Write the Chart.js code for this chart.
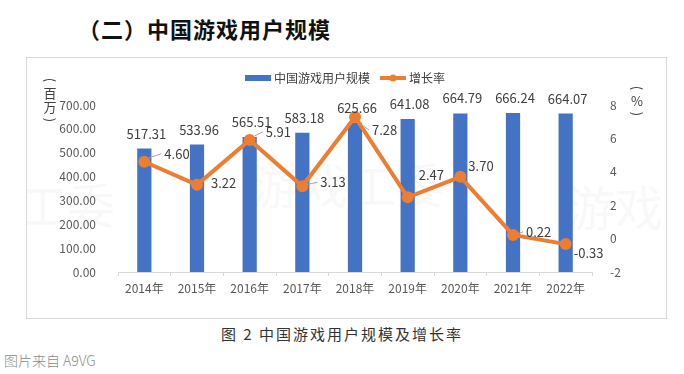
<!DOCTYPE html>
<html>
<head>
<meta charset="utf-8">
<script src="https://cdn.jsdelivr.net/npm/chart.js@4/dist/chart.umd.min.js"></script>
<style>
  body { margin: 0; width: 684px; height: 374px; background: #fff; position: relative; overflow: hidden;
         font-family: "Noto Sans CJK SC", sans-serif; }
  .title { position: absolute; left: 78px; top: 12px; font-size: 22px; font-weight: bold; color: #111; letter-spacing: 1px; }
  .frame { position: absolute; left: 26px; top: 57px; width: 639px; height: 260px; border: 1px solid #d9d9d9; }
  .caption { position: absolute; left: 0; width: 684px; top: 323px; text-align: center; font-size: 15px; color: #333; letter-spacing: 2px; }
  .source { position: absolute; left: 4px; top: 350px; font-size: 14px; color: #8a8a8a; font-weight: 300; }
</style>
</head>
<body>
<div class="title">（二）中国游戏用户规模</div>
<div class="frame"><canvas id="chart" width="639" height="260"></canvas></div>
<div class="caption">图 2 中国游戏用户规模及增长率</div>
<div class="source">图片来自 A9VG</div>
<script>
const years = ['2014年', '2015年', '2016年', '2017年', '2018年', '2019年', '2020年', '2021年', '2022年'];
const users = [517.31, 533.96, 565.51, 583.18, 625.66, 641.08, 664.79, 666.24, 664.07];
const growth = [4.60, 3.22, 5.91, 3.13, 7.28, 2.47, 3.70, 0.22, -0.33];
const userAxis = [0, 700, 100];
const growthAxis = [-2, 8, 2];

const BLUE = '#4472C4';
const ORANGE = '#ED7D31';
const TEXT = '#404040';
const FONT = '"Noto Sans CJK SC", sans-serif';

// label offsets for the growth values (dx, dy, leader line)
const lineLabelPos = [[20, -8, true], [14, -2, false], [16, -8, true], [18, -4, true], [17, 13, true],
                      [11, -22, false], [8, -11, false], [13, -3, true], [8, 9, false]];

// vertical axis title: rotated brackets around stacked characters
function verticalTitle(ctx, chars, x, y) {
  let yy = y;
  const paren = (ch, py) => {
    ctx.save();
    ctx.translate(x, py);
    ctx.rotate(Math.PI / 2);
    ctx.fillText(ch, 0, 0);
    ctx.restore();
  };
  paren('(', yy);
  yy += 13;
  chars.forEach(c => { ctx.fillText(c, x, yy); yy += 14; });
  paren(')', yy - 1);
}

const extras = {
  id: 'extras',
  beforeDatasetsDraw(chart) {
    const ctx = chart.ctx;
    ctx.save();
    ctx.fillStyle = 'rgba(160,160,160,0.08)';
    ctx.font = '48px ' + FONT;
    ctx.textBaseline = 'middle';
    ctx.fillText('工委', -8, 148);
    ctx.fillText('游戏工委', 225, 128);
    ctx.fillText('游戏', 540, 150);
    ctx.restore();
  },
  afterDatasetsDraw(chart) {
    const ctx = chart.ctx;
    ctx.save();
    ctx.font = '13px ' + FONT;
    ctx.fillStyle = TEXT;
    // bar values
    ctx.textAlign = 'center';
    ctx.textBaseline = 'middle';
    chart.getDatasetMeta(1).data.forEach((bar, i) => {
      ctx.fillText(users[i].toFixed(2), bar.x + 2, bar.y - 15);
    });
    // growth values
    ctx.textAlign = 'left';
    chart.getDatasetMeta(0).data.forEach((pt, i) => {
      const [dx, dy, leader] = lineLabelPos[i];
      if (leader) {
        ctx.strokeStyle = '#a6a6a6';
        ctx.lineWidth = 1;
        ctx.beginPath();
        ctx.moveTo(pt.x + 5, pt.y + dy * 0.5);
        ctx.lineTo(pt.x + dx - 3, pt.y + dy);
        ctx.stroke();
      }
      ctx.fillText(growth[i].toFixed(2), pt.x + dx, pt.y + dy);
    });
    // legend
    ctx.font = '12px ' + FONT;
    ctx.fillStyle = BLUE;
    ctx.fillRect(218, 17, 26, 6);
    ctx.fillStyle = TEXT;
    ctx.fillText('中国游戏用户规模', 247, 20);
    ctx.strokeStyle = ORANGE;
    ctx.lineWidth = 4;
    ctx.beginPath();
    ctx.moveTo(353, 20);
    ctx.lineTo(379, 20);
    ctx.stroke();
    ctx.fillStyle = ORANGE;
    ctx.beginPath();
    ctx.arc(366, 20, 3.5, 0, Math.PI * 2);
    ctx.fill();
    ctx.fillStyle = TEXT;
    ctx.fillText('增长率', 382, 20);
    // axis titles
    ctx.font = '13px ' + FONT;
    ctx.textAlign = 'center';
    verticalTitle(ctx, ['百', '万'], 23, 22);
    verticalTitle(ctx, ['%'], 610, 30);
    ctx.restore();
  }
};

new Chart(document.getElementById('chart'), {
  type: 'bar',
  data: {
    labels: years,
    datasets: [
      {
        type: 'line',
        label: '增长率',
        data: growth,
        yAxisID: 'y1',
        borderColor: ORANGE,
        backgroundColor: ORANGE,
        borderWidth: 4,
        pointRadius: 6,
        pointBorderWidth: 0,
        tension: 0,
        order: 0
      },
      {
        label: '中国游戏用户规模',
        data: users,
        yAxisID: 'y',
        backgroundColor: BLUE,
        barPercentage: 0.27,
        categoryPercentage: 1,
        order: 1
      }
    ]
  },
  options: {
    responsive: false,
    animation: false,
    layout: { padding: { top: 47, left: 0, right: 0, bottom: 0 } },
    plugins: { legend: { display: false }, tooltip: { enabled: false } },
    scales: {
      x: {
        afterFit(s) { s.height = 46; },
        grid: { display: true, drawOnChartArea: false, drawTicks: true, tickLength: 4, color: '#d9d9d9' },
        border: { color: '#d9d9d9' },
        ticks: { color: '#595959', font: { family: FONT, size: 12 }, padding: 5 }
      },
      y: {
        position: 'left',
        min: userAxis[0], max: userAxis[1],
        afterFit(s) { s.width = 91; },
        grid: { display: false },
        border: { display: false },
        ticks: { stepSize: userAxis[2], color: '#595959', font: { family: FONT, size: 12 }, padding: 14,
                 callback: v => v.toFixed(2) }
      },
      y1: {
        position: 'right',
        min: growthAxis[0], max: growthAxis[1],
        afterFit(s) { s.width = 74; },
        grid: { display: false },
        border: { display: false },
        ticks: { stepSize: growthAxis[2], color: '#595959', font: { family: FONT, size: 12 }, padding: 10 }
      }
    }
  },
  plugins: [extras]
});
</script>
</body>
</html>
